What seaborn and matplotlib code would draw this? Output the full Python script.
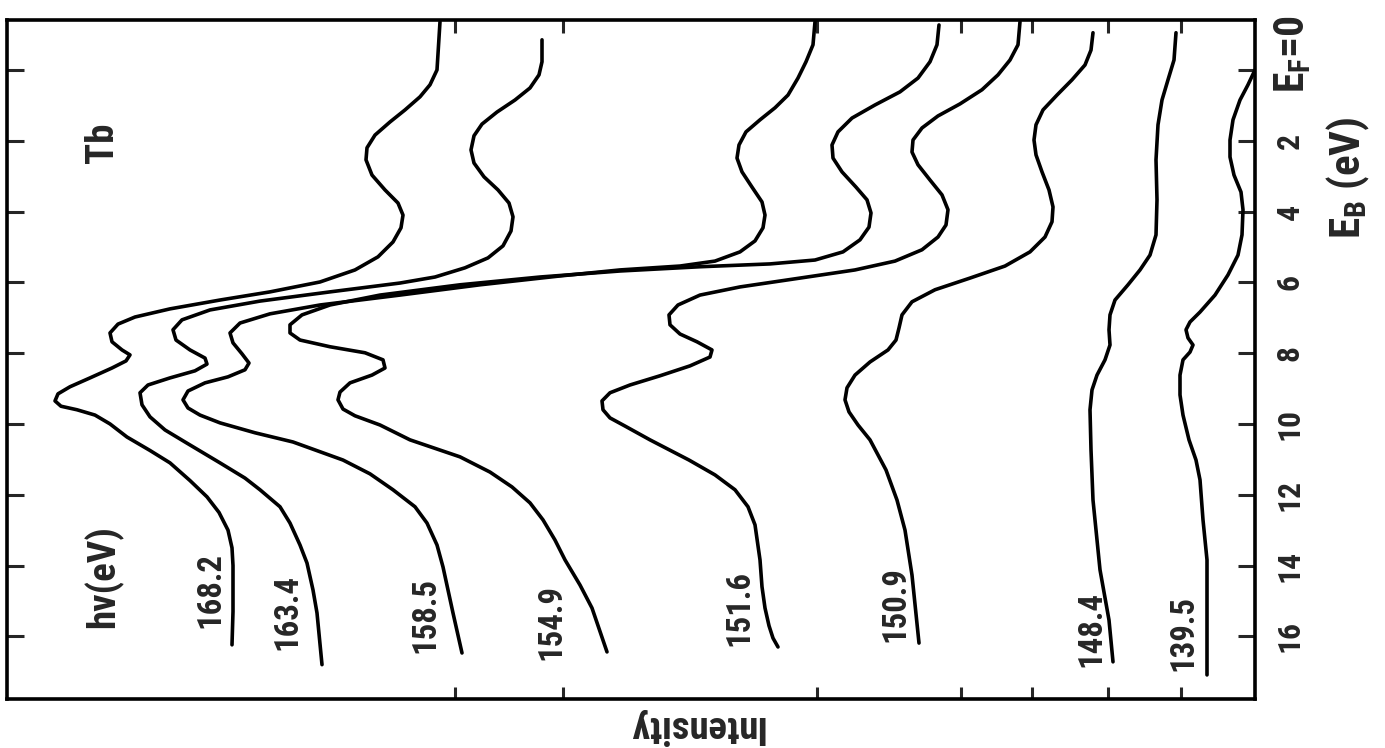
import matplotlib
matplotlib.use("Agg")
import matplotlib.pyplot as plt
import matplotlib.transforms as mtransforms
from matplotlib import font_manager as fm
import seaborn as sns
import pandas as pd

# ---------------- data (E_B in eV, intensity in arbitrary units) ----------------
eb_168 = [-1.36, 0.0, 0.42, 0.76, 1.13, 1.47, 1.84, 2.2, 2.54, 2.97, 3.39, 3.76, 4.1, 4.46, 4.86, 5.28, 5.65, 5.99,
          6.27, 6.5, 6.75, 6.98, 7.18, 7.43, 7.68, 7.91, 8.05, 8.22, 8.42, 8.7, 8.95, 9.15, 9.35, 9.5, 9.6, 9.75, 10.0,
          10.37, 10.75, 11.1, 11.6, 12.06, 12.5, 13.0, 13.5, 14.0, 15.3, 16.24]
in_168 = [81.5, 81.8, 82.5, 83.5, 85.0, 86.5, 88.0, 88.8, 88.9, 88.3, 87.0, 85.7, 85.2, 85.4, 86.2, 87.7, 90.0, 93.5,
          98.5, 103.5, 108.5, 112.0, 113.7, 114.5, 114.3, 113.3, 112.5, 112.9, 114.3, 116.5, 118.5, 119.7, 120.0, 119.4,
          117.8, 116.0, 114.5, 112.8, 110.5, 108.5, 106.5, 104.8, 103.6, 102.7, 102.3, 102.2, 102.2, 102.3]

eb_163 = [-0.85, -0.23, 0.14, 0.51, 0.85, 1.19, 1.53, 1.86, 2.26, 2.63, 3.02, 3.39, 3.76, 4.15, 4.55, 4.97, 5.31, 5.59,
          5.85, 6.02, 6.27, 6.53, 6.78, 7.06, 7.34, 7.63, 7.91, 8.14, 8.31, 8.5, 8.7, 8.9, 9.12, 9.46, 9.8, 10.17, 10.51,
          11.1, 11.53, 11.86, 12.34, 12.8, 13.42, 13.93, 14.69, 15.34, 16.8]
in_163 = [71.3, 71.3, 71.6, 72.5, 74.0, 75.8, 77.3, 78.1, 78.4, 78.1, 77.1, 75.7, 74.6, 74.2, 74.4, 75.2, 76.7, 79.0,
          82.0, 85.5, 92.5, 99.5, 104.5, 107.3, 108.2, 107.9, 106.5, 105.0, 104.8, 106.0, 108.5, 110.7, 111.5, 111.3,
          110.5, 109.0, 107.0, 103.5, 101.0, 99.5, 97.5, 96.5, 95.5, 94.8, 94.2, 93.8, 93.3]

eb_158 = [-1.36, -0.71, -0.23, 0.23, 0.71, 1.07, 1.41, 1.75, 2.12, 2.49, 2.88, 3.31, 3.73, 4.1, 4.46, 4.83, 5.14, 5.4,
          5.54, 5.65, 5.82, 6.07, 6.36, 6.64, 6.89, 7.15, 7.43, 7.71, 8.02, 8.28, 8.47, 8.67, 8.84, 9.07, 9.32, 9.55,
          9.75, 9.97, 10.25, 10.51, 11.02, 11.41, 11.86, 12.34, 12.8, 13.42, 14.04, 15.34, 16.47]
in_158 = [44.0, 44.2, 44.9, 45.7, 46.7, 48.0, 49.5, 50.9, 51.6, 51.8, 51.3, 50.3, 49.3, 49.0, 49.2, 50.0, 51.5, 54.0,
          57.5, 63.5, 69.5, 77.5, 85.5, 93.5, 98.5, 101.5, 102.5, 102.2, 101.3, 100.6, 101.0, 102.7, 105.0, 106.7,
          107.2, 106.7, 105.5, 103.5, 100.0, 96.2, 91.2, 88.5, 86.2, 84.0, 82.8, 81.8, 81.2, 80.2, 79.3]

eb_154 = [-1.27, -0.71, -0.23, 0.23, 0.62, 0.99, 1.36, 1.75, 2.12, 2.49, 2.88, 3.31, 3.67, 4.04, 4.44, 4.8, 5.14, 5.37,
          5.48, 5.56, 5.68, 5.85, 6.07, 6.36, 6.64, 6.92, 7.2, 7.43, 7.63, 7.82, 7.99, 8.19, 8.42, 8.62, 8.84, 9.1, 9.32,
          9.58, 9.77, 10.03, 10.45, 10.93, 11.36, 11.78, 12.23, 12.71, 13.28, 13.84, 14.55, 15.2, 16.44]
in_154 = [31.6, 31.8, 32.5, 33.7, 35.5, 38.0, 40.3, 41.7, 42.3, 42.2, 41.3, 39.9, 38.8, 38.4, 38.6, 39.5, 41.2, 44.0,
          48.5, 55.5, 63.5, 71.5, 79.5, 87.5, 92.5, 95.3, 96.5, 96.5, 95.5, 92.5, 89.0, 87.2, 87.0, 88.3, 90.5, 91.5,
          91.7, 91.2, 90.0, 87.5, 84.5, 79.5, 76.5, 74.3, 72.5, 71.2, 70.0, 69.0, 67.5, 66.3, 64.8]

eb_151_6 = [-1.36, -0.71, -0.28, 0.14, 0.56, 0.96, 1.3, 1.64, 1.98, 2.32, 2.68, 3.11, 3.53, 3.95, 4.38, 4.72, 5.08, 5.4,
            5.65, 5.88, 6.13, 6.36, 6.64, 6.92, 7.2, 7.46, 7.68, 7.91, 8.11, 8.36, 8.64, 8.9, 9.12, 9.35, 9.6, 9.83,
            10.06, 10.45, 11.02, 11.44, 11.86, 12.34, 12.85, 13.84, 14.6, 15.2, 15.7, 16.05, 16.3]
in_151_6 = [23.5, 23.7, 24.5, 25.7, 27.3, 29.5, 31.7, 33.3, 34.2, 34.3, 33.7, 32.5, 31.3, 30.7, 30.9, 31.7, 33.3, 36.0,
            40.0, 45.5, 51.5, 55.5, 57.7, 58.6, 58.5, 57.5, 55.8, 54.3, 54.5, 56.5, 59.5, 62.5, 64.5, 65.3, 65.2, 64.5,
            63.0, 60.5, 56.6, 54.0, 52.0, 50.7, 50.0, 49.5, 49.3, 49.0, 48.6, 48.2, 47.7]

eb_150 = [-1.05, -0.56, -0.14, 0.28, 0.71, 1.13, 1.55, 1.98, 2.4, 2.88, 3.39, 3.87, 4.29, 4.72, 5.14, 5.54, 5.88, 6.21,
          6.55, 6.92, 7.29, 7.63, 7.91, 8.25, 8.62, 8.98, 9.32, 9.66, 10.03, 10.45, 11.3, 12.15, 13.0, 14.27, 16.19]
in_150 = [16.2, 16.4, 17.0, 18.3, 19.8, 21.2, 21.9, 22.1, 21.9, 21.3, 20.6, 20.2, 20.3, 21.0, 22.5, 25.0, 28.5, 32.0,
          34.3, 35.3, 35.6, 35.9, 36.7, 38.5, 40.0, 40.8, 41.0, 40.6, 39.7, 38.5, 36.9, 35.8, 35.0, 34.3, 33.6]

eb_148 = [-1.05, -0.28, 0.28, 0.85, 1.55, 2.54, 3.67, 4.66, 5.23, 5.65, 6.07, 6.5, 6.92, 7.34, 7.77, 8.19, 8.62, 9.04,
          9.6, 10.73, 12.15, 14.12, 15.54, 16.72]
in_148 = [7.9, 8.1, 8.7, 9.3, 9.7, 9.9, 9.8, 9.9, 10.5, 11.5, 12.7, 14.0, 14.5, 14.6, 14.5, 15.0, 15.8, 16.3, 16.5,
          16.4, 16.2, 15.5, 14.6, 14.2]

eb_139 = [0.0, 0.42, 0.85, 1.41, 1.98, 2.46, 2.97, 3.45, 3.95, 4.66, 5.23, 5.79, 6.36, 6.84, 7.12, 7.34, 7.57, 7.77,
          7.97, 8.19, 8.62, 9.18, 9.75, 10.45, 11.02, 11.58, 12.71, 13.84, 17.09]
in_139 = [0.0, 0.7, 1.5, 2.2, 2.5, 2.5, 2.1, 1.4, 1.2, 1.3, 1.7, 2.7, 4.0, 5.5, 6.5, 6.9, 6.7, 6.2, 6.5, 7.2, 7.5, 7.5,
          7.2, 6.6, 5.9, 5.5, 5.2, 4.8, 4.8]

photon_labels = ["168.2", "163.4", "158.5", "154.9", "151.6", "150.9", "148.4", "139.5"]
label_pos_int = [104.5, 96.8, 83.0, 70.4, 51.6, 36.0, 16.4, 7.2]
label_pos_eb = [14.7, 15.3, 15.4, 15.6, 15.2, 15.1, 15.8, 15.9]

eb_ticks = [0, 2, 4, 6, 8, 10, 12, 14, 16]
eb_ticklabels = ["", "2", "4", "6", "8", "10", "12", "14", "16"]
int_ticks = [80.0, 69.2, 43.8, 29.4, 22.3, 14.7, 7.4]

series = [(eb_168, in_168), (eb_163, in_163), (eb_158, in_158), (eb_154, in_154),
          (eb_151_6, in_151_6), (eb_150, in_150), (eb_148, in_148), (eb_139, in_139)]

# ---------------- font choice: a narrow bold sans if one is installed ----------------
sns.set_style("white")
plt.rcParams["font.family"] = ["DejaVu Sans"]

prefs = ["LiberationSansNarrow-Bold.", "RobotoCondensed-Bold.", "DejaVuSansCondensed-Bold.",
         "LiberationSans-Bold.", "Roboto-Bold.", "DejaVuSans-Bold."]
font_file = None
for p in prefs:
    for f in fm.fontManager.ttflist:
        if p in f.fname.replace("\\", "/").split("/")[-1]:
            font_file = f.fname
            break
    if font_file:
        break
if font_file:
    FP = fm.FontProperties(fname=font_file)
else:
    FP = fm.FontProperties(family="DejaVu Sans", weight="bold")

fig = plt.figure(figsize=(13.85, 7.48), dpi=100)
renderer = fig.canvas.get_renderer()


def fit_size(s, target_px, max_pt):
    t = fig.text(0, 0, s, fontproperties=FP, size=20)
    w = t.get_window_extent(renderer).width
    t.remove()
    return min(max_pt, 20 * target_px / w)


def fp_size(sz):
    p = FP.copy()
    p.set_size(sz)
    return p


lab_size = fit_size("168.2", 76, 28)
tick_size = fit_size("16", 32, 29)

ax = fig.add_axes([7 / 1385, 49 / 748, 1248 / 1385, 679 / 748])

for (eb, inten) in series:
    df = pd.DataFrame({"intensity": inten, "eb": eb})
    sns.lineplot(data=df, x="intensity", y="eb", sort=False, estimator=None, color="black",
                 linewidth=2.6, ax=ax, legend=False, solid_joinstyle="round", solid_capstyle="round")

ax.set_xlim(124.8, 0)
ax.set_ylim(17.77, -1.41)
ax.set_xlabel("")
ax.set_ylabel("")

for sp in ax.spines.values():
    sp.set_visible(True)
    sp.set_linewidth(2.6)
    sp.set_color("black")

ax.set_yticks(eb_ticks)
ax.set_yticklabels(eb_ticklabels)
ax.tick_params(axis="y", left=True, right=True, labelleft=False, labelright=True, direction="in",
               length=12, width=2.2, pad=14, labelrotation=90)
for t in ax.get_yticklabels():
    t.set_va("center")
    t.set_fontproperties(fp_size(tick_size))

ax.set_xticks(int_ticks)
ax.tick_params(axis="x", top=True, bottom=True, labelbottom=False, labeltop=False, direction="in",
               length=9, width=2.2)

trans = mtransforms.blended_transform_factory(ax.transAxes, ax.transData)
ax.text(1.0135, -0.45, "E$_\\mathregular{F}$=0", transform=trans, rotation=90, ha="left", va="center",
        fontproperties=fp_size(fit_size("EF=0", 82, 30)))
ax.text(1.055, 3.05, "E$_\\mathregular{B}$ (eV)", transform=trans, rotation=90, ha="left", va="center",
        fontproperties=fp_size(fit_size("EB (eV)", 134, 31)))

for lab, xi, yi in zip(photon_labels, label_pos_int, label_pos_eb):
    ax.text(xi, yi, lab, rotation=90, ha="center", va="center", fontproperties=fp_size(lab_size))

ax.text(115.2, 14.3, "hv(eV)", rotation=90, ha="center", va="center",
        fontproperties=fp_size(fit_size("hv(eV)", 108, 28)))
ax.text(115.2, 2.06, "Tb", rotation=90, ha="center", va="center",
        fontproperties=fp_size(fit_size("Tb", 41, 28)))

fig.text(695 / 1385, 1 - 727 / 748, "Intensity", rotation=180, ha="center", va="center",
         fontproperties=fp_size(fit_size("Intensity", 138, 28)))

fig.savefig("out.png", dpi=100)
